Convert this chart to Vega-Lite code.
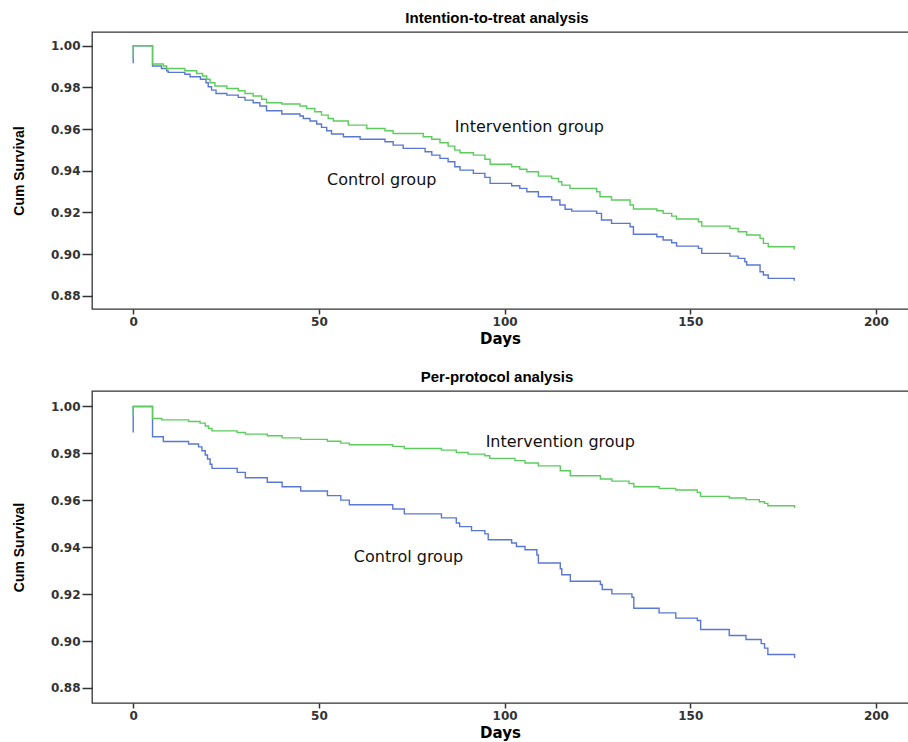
{
  "$schema": "https://vega.github.io/schema/vega-lite/v6.json",
  "background": "white",
  "padding": {"left": 11, "top": 10, "right": 0, "bottom": 0},
  "spacing": 22,
  "config": {
    "view": {"stroke": "#333333", "strokeWidth": 1.3},
    "axis": {
      "domain": false,
      "grid": false,
      "tickColor": "#333333",
      "tickWidth": 1.5,
      "labelFont": "DejaVu Sans",
      "labelFontWeight": "bold",
      "labelFontSize": 12,
      "labelColor": "#333333",
      "titleColor": "#000000",
      "titleFontWeight": "bold"
    },
    "axisX": {"tickSize": 5, "labelPadding": 2, "titleFont": "DejaVu Sans", "titleFontSize": 15, "titlePadding": 4},
    "axisY": {"tickSize": 10, "labelPadding": 2, "titleFont": "Liberation Sans", "titleFontSize": 14, "titlePadding": 24},
    "title": {"font": "Liberation Sans", "fontSize": 15, "fontWeight": "bold", "color": "#000000", "anchor": "middle", "offset": 6}
  },
  "datasets": {
    "itt": [
      {"g":"Control","i":0,"d":0,"s":0.9916},{"g":"Control","i":1,"d":0,"s":1.0},{"g":"Control","i":2,"d":5.2,"s":0.9903},{"g":"Control","i":3,"d":7.6,"s":0.9891},{"g":"Control","i":4,"d":9.0,"s":0.9880},{"g":"Control","i":5,"d":9.4,"s":0.9872},{"g":"Control","i":6,"d":13.9,"s":0.9863},{"g":"Control","i":7,"d":15.3,"s":0.9851},{"g":"Control","i":8,"d":18.1,"s":0.9839},{"g":"Control","i":9,"d":19.6,"s":0.9822},{"g":"Control","i":10,"d":20.2,"s":0.9803},{"g":"Control","i":11,"d":21.1,"s":0.9787},{"g":"Control","i":12,"d":22.3,"s":0.9771},{"g":"Control","i":13,"d":25.2,"s":0.9763},{"g":"Control","i":14,"d":28.3,"s":0.9752},{"g":"Control","i":15,"d":30.1,"s":0.9739},{"g":"Control","i":16,"d":32.3,"s":0.9726},{"g":"Control","i":17,"d":34.1,"s":0.9711},{"g":"Control","i":18,"d":35.9,"s":0.9688},{"g":"Control","i":19,"d":40.0,"s":0.9672},{"g":"Control","i":20,"d":44.9,"s":0.9663},{"g":"Control","i":21,"d":45.8,"s":0.9651},{"g":"Control","i":22,"d":47.6,"s":0.9639},{"g":"Control","i":23,"d":49.4,"s":0.9624},{"g":"Control","i":24,"d":50.7,"s":0.9608},{"g":"Control","i":25,"d":52.1,"s":0.9592},{"g":"Control","i":26,"d":53.4,"s":0.9576},{"g":"Control","i":27,"d":56.6,"s":0.9563},{"g":"Control","i":28,"d":61.1,"s":0.9551},{"g":"Control","i":29,"d":67.8,"s":0.9539},{"g":"Control","i":30,"d":70.0,"s":0.9523},{"g":"Control","i":31,"d":72.7,"s":0.9507},{"g":"Control","i":32,"d":78.6,"s":0.9491},{"g":"Control","i":33,"d":80.4,"s":0.9475},{"g":"Control","i":34,"d":82.6,"s":0.9459},{"g":"Control","i":35,"d":84.8,"s":0.9443},{"g":"Control","i":36,"d":86.6,"s":0.9419},{"g":"Control","i":37,"d":88.0,"s":0.9403},{"g":"Control","i":38,"d":91.6,"s":0.9387},{"g":"Control","i":39,"d":94.7,"s":0.9368},{"g":"Control","i":40,"d":96.1,"s":0.9339},{"g":"Control","i":41,"d":101.9,"s":0.9328},{"g":"Control","i":42,"d":104.1,"s":0.9315},{"g":"Control","i":43,"d":106.0,"s":0.9299},{"g":"Control","i":44,"d":109.1,"s":0.9275},{"g":"Control","i":45,"d":112.7,"s":0.9259},{"g":"Control","i":46,"d":114.9,"s":0.9235},{"g":"Control","i":47,"d":116.3,"s":0.9215},{"g":"Control","i":48,"d":118.1,"s":0.9206},{"g":"Control","i":49,"d":124.8,"s":0.9195},{"g":"Control","i":50,"d":126.1,"s":0.9163},{"g":"Control","i":51,"d":128.8,"s":0.9147},{"g":"Control","i":52,"d":133.8,"s":0.9131},{"g":"Control","i":53,"d":134.7,"s":0.9095},{"g":"Control","i":54,"d":141.0,"s":0.9083},{"g":"Control","i":55,"d":142.7,"s":0.9067},{"g":"Control","i":56,"d":145.0,"s":0.9054},{"g":"Control","i":57,"d":146.3,"s":0.9038},{"g":"Control","i":58,"d":152.2,"s":0.9027},{"g":"Control","i":59,"d":153.1,"s":0.9003},{"g":"Control","i":60,"d":160.7,"s":0.8990},{"g":"Control","i":61,"d":162.9,"s":0.8979},{"g":"Control","i":62,"d":164.7,"s":0.8963},{"g":"Control","i":63,"d":165.2,"s":0.8947},{"g":"Control","i":64,"d":168.8,"s":0.8915},{"g":"Control","i":65,"d":169.7,"s":0.8899},{"g":"Control","i":66,"d":171.0,"s":0.8883},{"g":"Control","i":67,"d":178.0,"s":0.8879},{"g":"Control","i":68,"d":178.0,"s":0.8872},
      {"g":"Intervention","i":0,"d":0,"s":0.9940},{"g":"Intervention","i":1,"d":0,"s":1.0},{"g":"Intervention","i":2,"d":5.2,"s":0.9912},{"g":"Intervention","i":3,"d":8.1,"s":0.9903},{"g":"Intervention","i":4,"d":9.0,"s":0.9891},{"g":"Intervention","i":5,"d":13.9,"s":0.9880},{"g":"Intervention","i":6,"d":17.1,"s":0.9867},{"g":"Intervention","i":7,"d":18.7,"s":0.9855},{"g":"Intervention","i":8,"d":19.8,"s":0.9839},{"g":"Intervention","i":9,"d":20.7,"s":0.9822},{"g":"Intervention","i":10,"d":22.0,"s":0.9807},{"g":"Intervention","i":11,"d":25.2,"s":0.9795},{"g":"Intervention","i":12,"d":28.3,"s":0.9784},{"g":"Intervention","i":13,"d":30.1,"s":0.9771},{"g":"Intervention","i":14,"d":32.3,"s":0.9759},{"g":"Intervention","i":15,"d":34.6,"s":0.9743},{"g":"Intervention","i":16,"d":35.9,"s":0.9726},{"g":"Intervention","i":17,"d":40.0,"s":0.9720},{"g":"Intervention","i":18,"d":44.9,"s":0.9711},{"g":"Intervention","i":19,"d":46.7,"s":0.9699},{"g":"Intervention","i":20,"d":48.9,"s":0.9683},{"g":"Intervention","i":21,"d":50.7,"s":0.9667},{"g":"Intervention","i":22,"d":52.5,"s":0.9651},{"g":"Intervention","i":23,"d":53.9,"s":0.9639},{"g":"Intervention","i":24,"d":57.9,"s":0.9619},{"g":"Intervention","i":25,"d":62.9,"s":0.9603},{"g":"Intervention","i":26,"d":67.8,"s":0.9592},{"g":"Intervention","i":27,"d":70.0,"s":0.9579},{"g":"Intervention","i":28,"d":78.1,"s":0.9563},{"g":"Intervention","i":29,"d":80.4,"s":0.9551},{"g":"Intervention","i":30,"d":82.6,"s":0.9534},{"g":"Intervention","i":31,"d":84.8,"s":0.9518},{"g":"Intervention","i":32,"d":86.6,"s":0.9499},{"g":"Intervention","i":33,"d":88.0,"s":0.9486},{"g":"Intervention","i":34,"d":91.6,"s":0.9475},{"g":"Intervention","i":35,"d":94.7,"s":0.9455},{"g":"Intervention","i":36,"d":96.1,"s":0.9431},{"g":"Intervention","i":37,"d":101.9,"s":0.9419},{"g":"Intervention","i":38,"d":104.1,"s":0.9407},{"g":"Intervention","i":39,"d":106.0,"s":0.9395},{"g":"Intervention","i":40,"d":109.1,"s":0.9374},{"g":"Intervention","i":41,"d":112.7,"s":0.9363},{"g":"Intervention","i":42,"d":114.5,"s":0.9347},{"g":"Intervention","i":43,"d":115.4,"s":0.9331},{"g":"Intervention","i":44,"d":117.6,"s":0.9315},{"g":"Intervention","i":45,"d":124.8,"s":0.9299},{"g":"Intervention","i":46,"d":125.7,"s":0.9275},{"g":"Intervention","i":47,"d":128.8,"s":0.9259},{"g":"Intervention","i":48,"d":133.8,"s":0.9235},{"g":"Intervention","i":49,"d":134.7,"s":0.9216},{"g":"Intervention","i":50,"d":141.0,"s":0.9208},{"g":"Intervention","i":51,"d":142.7,"s":0.9195},{"g":"Intervention","i":52,"d":145.0,"s":0.9182},{"g":"Intervention","i":53,"d":146.3,"s":0.9168},{"g":"Intervention","i":54,"d":152.2,"s":0.9155},{"g":"Intervention","i":55,"d":153.1,"s":0.9134},{"g":"Intervention","i":56,"d":160.7,"s":0.9123},{"g":"Intervention","i":57,"d":162.9,"s":0.9107},{"g":"Intervention","i":58,"d":165.2,"s":0.9091},{"g":"Intervention","i":59,"d":168.8,"s":0.9075},{"g":"Intervention","i":60,"d":169.7,"s":0.9051},{"g":"Intervention","i":61,"d":171.0,"s":0.9035},{"g":"Intervention","i":62,"d":178.0,"s":0.9030},{"g":"Intervention","i":63,"d":178.0,"s":0.9022}
    ],
    "pp": [
      {"g":"Control","i":0,"d":0,"s":0.9889},{"g":"Control","i":1,"d":0,"s":1.0},{"g":"Control","i":2,"d":5.2,"s":0.9871},{"g":"Control","i":3,"d":8.1,"s":0.9851},{"g":"Control","i":4,"d":14.9,"s":0.9840},{"g":"Control","i":5,"d":17.6,"s":0.9828},{"g":"Control","i":6,"d":18.5,"s":0.9811},{"g":"Control","i":7,"d":19.4,"s":0.9793},{"g":"Control","i":8,"d":20.0,"s":0.9776},{"g":"Control","i":9,"d":20.7,"s":0.9754},{"g":"Control","i":10,"d":21.2,"s":0.9736},{"g":"Control","i":11,"d":28.0,"s":0.9719},{"g":"Control","i":12,"d":30.2,"s":0.9696},{"g":"Control","i":13,"d":36.1,"s":0.9677},{"g":"Control","i":14,"d":40.1,"s":0.9658},{"g":"Control","i":15,"d":45.1,"s":0.9640},{"g":"Control","i":16,"d":52.3,"s":0.9620},{"g":"Control","i":17,"d":55.9,"s":0.9601},{"g":"Control","i":18,"d":58.2,"s":0.9581},{"g":"Control","i":19,"d":69.9,"s":0.9563},{"g":"Control","i":20,"d":73.0,"s":0.9542},{"g":"Control","i":21,"d":83.0,"s":0.9525},{"g":"Control","i":22,"d":87.0,"s":0.9503},{"g":"Control","i":23,"d":87.9,"s":0.9488},{"g":"Control","i":24,"d":91.1,"s":0.9471},{"g":"Control","i":25,"d":94.7,"s":0.9457},{"g":"Control","i":26,"d":95.6,"s":0.9432},{"g":"Control","i":27,"d":101.9,"s":0.9418},{"g":"Control","i":28,"d":103.2,"s":0.9403},{"g":"Control","i":29,"d":105.5,"s":0.9389},{"g":"Control","i":30,"d":108.7,"s":0.9367},{"g":"Control","i":31,"d":109.1,"s":0.9333},{"g":"Control","i":32,"d":115.0,"s":0.9308},{"g":"Control","i":33,"d":115.4,"s":0.9283},{"g":"Control","i":34,"d":117.7,"s":0.9255},{"g":"Control","i":35,"d":125.8,"s":0.9241},{"g":"Control","i":36,"d":126.3,"s":0.9220},{"g":"Control","i":37,"d":128.9,"s":0.9201},{"g":"Control","i":38,"d":134.3,"s":0.9187},{"g":"Control","i":39,"d":134.8,"s":0.9140},{"g":"Control","i":40,"d":141.6,"s":0.9120},{"g":"Control","i":41,"d":146.1,"s":0.9098},{"g":"Control","i":42,"d":151.9,"s":0.9088},{"g":"Control","i":43,"d":152.8,"s":0.9049},{"g":"Control","i":44,"d":160.5,"s":0.9024},{"g":"Control","i":45,"d":165.0,"s":0.9007},{"g":"Control","i":46,"d":169.1,"s":0.8989},{"g":"Control","i":47,"d":170.0,"s":0.8970},{"g":"Control","i":48,"d":170.9,"s":0.8943},{"g":"Control","i":49,"d":178.1,"s":0.8943},{"g":"Control","i":50,"d":178.1,"s":0.8928},
      {"g":"Intervention","i":0,"d":0,"s":0.9960},{"g":"Intervention","i":1,"d":0,"s":1.0},{"g":"Intervention","i":2,"d":5.2,"s":0.9949},{"g":"Intervention","i":3,"d":7.7,"s":0.9943},{"g":"Intervention","i":4,"d":14.9,"s":0.9936},{"g":"Intervention","i":5,"d":18.0,"s":0.9929},{"g":"Intervention","i":6,"d":19.4,"s":0.9917},{"g":"Intervention","i":7,"d":20.3,"s":0.9906},{"g":"Intervention","i":8,"d":21.2,"s":0.9896},{"g":"Intervention","i":9,"d":28.0,"s":0.9889},{"g":"Intervention","i":10,"d":30.2,"s":0.9882},{"g":"Intervention","i":11,"d":36.1,"s":0.9875},{"g":"Intervention","i":12,"d":40.1,"s":0.9866},{"g":"Intervention","i":13,"d":45.1,"s":0.9860},{"g":"Intervention","i":14,"d":52.3,"s":0.9852},{"g":"Intervention","i":15,"d":55.9,"s":0.9844},{"g":"Intervention","i":16,"d":58.2,"s":0.9837},{"g":"Intervention","i":17,"d":69.9,"s":0.9830},{"g":"Intervention","i":18,"d":73.0,"s":0.9821},{"g":"Intervention","i":19,"d":83.0,"s":0.9814},{"g":"Intervention","i":20,"d":87.0,"s":0.9804},{"g":"Intervention","i":21,"d":90.2,"s":0.9797},{"g":"Intervention","i":22,"d":94.7,"s":0.9790},{"g":"Intervention","i":23,"d":96.0,"s":0.9779},{"g":"Intervention","i":24,"d":102.8,"s":0.9769},{"g":"Intervention","i":25,"d":105.5,"s":0.9759},{"g":"Intervention","i":26,"d":109.1,"s":0.9747},{"g":"Intervention","i":27,"d":115.0,"s":0.9726},{"g":"Intervention","i":28,"d":117.7,"s":0.9705},{"g":"Intervention","i":29,"d":125.8,"s":0.9691},{"g":"Intervention","i":30,"d":128.9,"s":0.9682},{"g":"Intervention","i":31,"d":133.5,"s":0.9672},{"g":"Intervention","i":32,"d":134.8,"s":0.9658},{"g":"Intervention","i":33,"d":141.6,"s":0.9651},{"g":"Intervention","i":34,"d":146.1,"s":0.9644},{"g":"Intervention","i":35,"d":151.9,"s":0.9634},{"g":"Intervention","i":36,"d":152.8,"s":0.9617},{"g":"Intervention","i":37,"d":160.5,"s":0.9610},{"g":"Intervention","i":38,"d":165.0,"s":0.9603},{"g":"Intervention","i":39,"d":168.6,"s":0.9594},{"g":"Intervention","i":40,"d":170.0,"s":0.9587},{"g":"Intervention","i":41,"d":170.9,"s":0.9577},{"g":"Intervention","i":42,"d":178.1,"s":0.9573},{"g":"Intervention","i":43,"d":178.1,"s":0.9567}
    ],
    "ittlab": [
      {"label":"Intervention group","d":86.6,"s":0.961},
      {"label":"Control group","d":52.2,"s":0.9355}
    ],
    "pplab": [
      {"label":"Intervention group","d":94.9,"s":0.9848},
      {"label":"Control group","d":59.4,"s":0.9359}
    ]
  },
  "vconcat": [
    {
      "title": {"text": "Intention-to-treat analysis", "dx": -15},
      "width": 840,
      "height": 277,
      "layer": [
        {
          "data": {"name": "itt"},
          "mark": {"type": "line", "interpolate": "step-after", "strokeWidth": 1.4},
          "encoding": {
            "x": {"field": "d", "type": "quantitative", "scale": {"domain": [-11.1, 215.1], "nice": false, "zero": false}, "axis": {"title": "Days", "values": [0, 50, 100, 150, 200], "titleX": 408}},
            "y": {"field": "s", "type": "quantitative", "scale": {"domain": [0.8736, 1.0066], "nice": false, "zero": false}, "axis": {"title": "Cum Survival", "values": [0.88, 0.9, 0.92, 0.94, 0.96, 0.98, 1.0], "format": ".2f"}},
            "color": {"field": "g", "type": "nominal", "scale": {"domain": ["Control", "Intervention"], "range": ["#5a78d2", "#5ccd5c"]}, "legend": null},
            "order": {"field": "i", "type": "quantitative"}
          }
        },
        {
          "data": {"name": "ittlab"},
          "mark": {"type": "text", "align": "left", "baseline": "middle", "font": "DejaVu Sans", "fontSize": 16, "color": "#111111"},
          "encoding": {
            "x": {"field": "d", "type": "quantitative"},
            "y": {"field": "s", "type": "quantitative"},
            "text": {"field": "label"}
          }
        }
      ]
    },
    {
      "title": {"text": "Per-protocol analysis", "dx": -15},
      "width": 840,
      "height": 312,
      "layer": [
        {
          "data": {"name": "pp"},
          "mark": {"type": "line", "interpolate": "step-after", "strokeWidth": 1.4},
          "encoding": {
            "x": {"field": "d", "type": "quantitative", "scale": {"domain": [-11.1, 215.1], "nice": false, "zero": false}, "axis": {"title": "Days", "values": [0, 50, 100, 150, 200], "titleX": 408}},
            "y": {"field": "s", "type": "quantitative", "scale": {"domain": [0.8736, 1.0066], "nice": false, "zero": false}, "axis": {"title": "Cum Survival", "values": [0.88, 0.9, 0.92, 0.94, 0.96, 0.98, 1.0], "format": ".2f"}},
            "color": {"field": "g", "type": "nominal", "scale": {"domain": ["Control", "Intervention"], "range": ["#5a78d2", "#5ccd5c"]}, "legend": null},
            "order": {"field": "i", "type": "quantitative"}
          }
        },
        {
          "data": {"name": "pplab"},
          "mark": {"type": "text", "align": "left", "baseline": "middle", "font": "DejaVu Sans", "fontSize": 16, "color": "#111111"},
          "encoding": {
            "x": {"field": "d", "type": "quantitative"},
            "y": {"field": "s", "type": "quantitative"},
            "text": {"field": "label"}
          }
        }
      ]
    }
  ]
}
